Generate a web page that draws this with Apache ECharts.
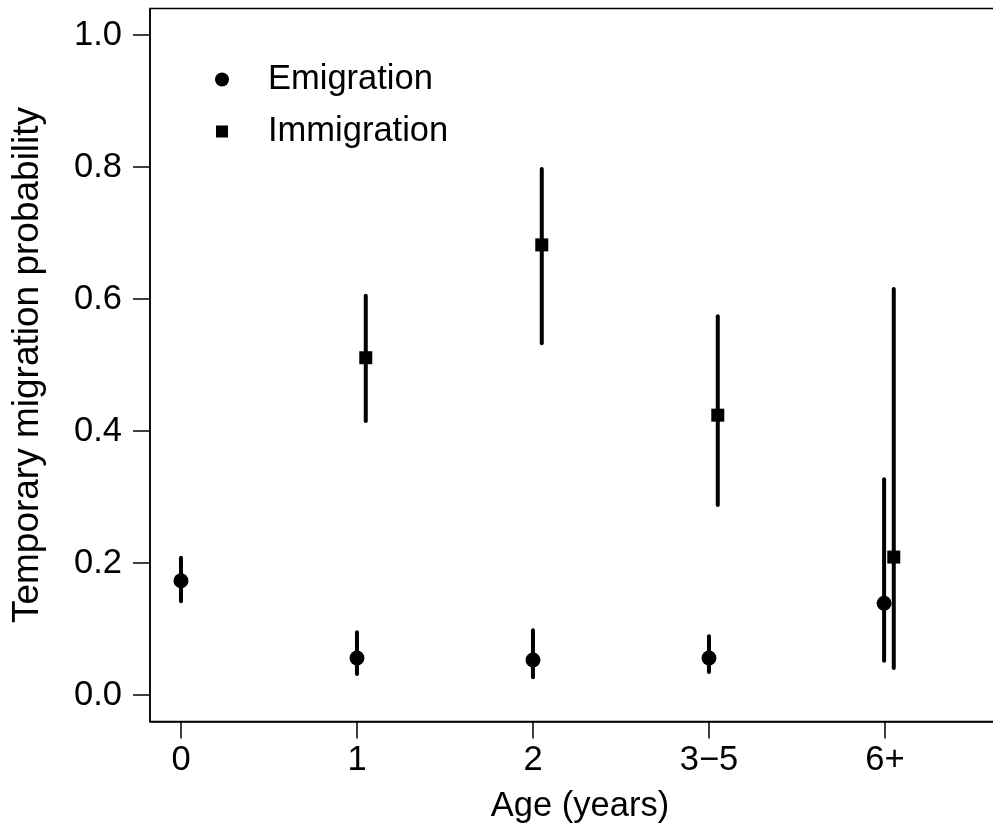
<!DOCTYPE html>
<html>
<head>
<meta charset="utf-8">
<script src="https://cdn.jsdelivr.net/npm/echarts@6/dist/echarts.min.js"></script>
<style>
html,body{margin:0;padding:0;background:#fff;}
#chart{width:993px;height:825px;}
</style>
</head>
<body>
<div id="chart"></div>
<script>
// ---- data ----
const categories = ['0', '1', '2', '3\u22125', '6+'];
const yTicks = [0, 0.2, 0.4, 0.6, 0.8, 1.0];

// Emigration: category index, estimate, lower, upper
const emiIndex = [0, 1, 2, 3, 4];
const emiEst   = [0.173, 0.056, 0.053, 0.056, 0.139];
const emiLow   = [0.142, 0.032, 0.027, 0.035, 0.052];
const emiHigh  = [0.208, 0.095, 0.098, 0.089, 0.327];

// Immigration (no estimate for age 0)
const immIndex = [1, 2, 3, 4];
const immEst   = [0.511, 0.682, 0.424, 0.209];
const immLow   = [0.415, 0.533, 0.288, 0.041];
const immHigh  = [0.605, 0.797, 0.574, 0.615];

const immOffset = 0.05;
const emiOffset = [0, 0, 0, 0, -0.005];

// ---- build ----
const FONT = 'Liberation Sans, Arial, sans-serif';
const emiPts = emiIndex.map((x, i) => [x + emiOffset[i], emiEst[i]]);
const emiBars = emiIndex.map((x, i) => [x + emiOffset[i], emiLow[i], emiHigh[i]]);
const immPts = immIndex.map((x, i) => [x + immOffset, immEst[i]]);
const immBars = immIndex.map((x, i) => [x + immOffset, immLow[i], immHigh[i]]);

function errRender(params, api) {
  const x = api.value(0);
  const p1 = api.coord([x, api.value(1)]);
  const p2 = api.coord([x, api.value(2)]);
  return {
    type: 'line',
    shape: {x1: p1[0], y1: p1[1], x2: p2[0], y2: p2[1]},
    style: {stroke: '#000', lineWidth: 4, lineCap: 'round'}
  };
}

const chart = echarts.init(document.getElementById('chart'), null, {renderer: 'canvas'});
chart.setOption({
  animation: false,
  backgroundColor: '#fff',
  textStyle: {fontFamily: FONT},
  grid: {
    left: 150, top: 8.6, width: 860, height: 712.8,
    outerBoundsMode: 'none', containLabel: false,
    show: true, borderColor: '#000', borderWidth: 1.5
  },
  legend: [
    {
      data: [{name: 'Emigration', icon: 'circle'}],
      left: 210, top: 57, itemWidth: 14, itemHeight: 14,
      textStyle: {fontSize: 34.5, color: '#000', fontFamily: FONT, padding: [0, 0, 0, 34]},
      selectedMode: false
    },
    {
      data: [{name: 'Immigration', icon: 'rect'}],
      left: 211, top: 109, itemWidth: 12, itemHeight: 12,
      textStyle: {fontSize: 34.5, color: '#000', fontFamily: FONT, padding: [0, 0, 0, 35]},
      selectedMode: false
    }
  ],
  xAxis: {
    type: 'value',
    min: -0.176, max: -0.176 + 860 / 176,
    name: 'Age (years)',
    nameLocation: 'middle',
    nameGap: 68,
    nameTextStyle: {fontSize: 34.5, color: '#000', fontFamily: FONT, verticalAlign: 'top'},
    axisLine: {show: true, onZero: false, lineStyle: {color: '#000', width: 1.5}},
    axisTick: {show: true, length: 17, lineStyle: {color: '#000', width: 1.5}, customValues: [0, 1, 2, 3, 4]},
    axisLabel: {
      customValues: [0, 1, 2, 3, 4],
      formatter: v => categories[Math.round(v)],
      fontSize: 34.5, color: '#000', fontFamily: FONT, margin: 22
    },
    splitLine: {show: false}
  },
  yAxis: {
    type: 'value',
    min: -0.04, max: 1.04,
    name: 'Temporary migration probability',
    nameLocation: 'middle',
    nameGap: 104,
    nameRotate: 90,
    nameTextStyle: {fontSize: 37, color: '#000', fontFamily: FONT},
    axisLine: {show: true, onZero: false, lineStyle: {color: '#000', width: 1.5}},
    axisTick: {show: true, length: 17, lineStyle: {color: '#000', width: 1.5}, customValues: yTicks},
    axisLabel: {
      customValues: yTicks,
      formatter: v => v.toFixed(1),
      fontSize: 34.5, color: '#000', fontFamily: FONT, margin: 28
    },
    splitLine: {show: false}
  },
  series: [
    {
      name: 'EmigrationBars', type: 'custom', renderItem: errRender,
      data: emiBars, encode: {x: 0, y: [1, 2]}, z: 2
    },
    {
      name: 'ImmigrationBars', type: 'custom', renderItem: errRender,
      data: immBars, encode: {x: 0, y: [1, 2]}, z: 2
    },
    {
      name: 'Emigration', type: 'scatter', symbol: 'circle', symbolSize: 15,
      itemStyle: {color: '#000', opacity: 1}, data: emiPts, z: 3
    },
    {
      name: 'Immigration', type: 'scatter', symbol: 'rect', symbolSize: 13,
      itemStyle: {color: '#000', opacity: 1}, data: immPts, z: 3
    }
  ]
});
</script>
</body>
</html>
